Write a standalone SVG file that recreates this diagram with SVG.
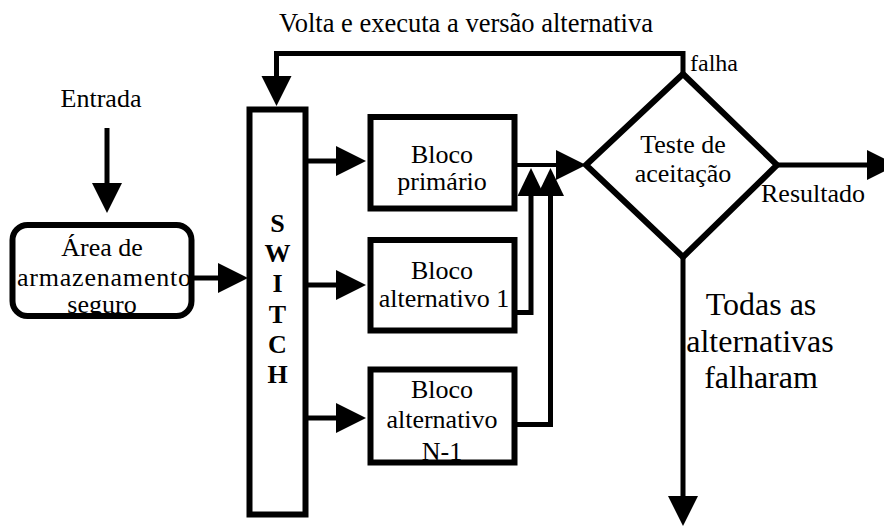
<svg xmlns="http://www.w3.org/2000/svg" width="884" height="530" viewBox="0 0 884 530">
  <style>
    text { font-family: 'Liberation Serif', 'Times New Roman', Tinos, 'DejaVu Serif', serif; font-size: 26px; fill: #000; text-anchor: middle; }
    .left { text-anchor: start; }
    .big { font-size: 32px; }
    .sw { font-weight: bold; font-size: 26px; }
    .box { fill: #fff; stroke: #000; stroke-width: 6; }
    .wire { fill: none; stroke: #000; stroke-width: 5; stroke-linejoin: miter; }
  </style>
  <defs>
    <marker id="ah" markerUnits="userSpaceOnUse" markerWidth="31" markerHeight="31" refX="0" refY="15" orient="auto" overflow="visible">
      <path d="M0,0 L30,15 L0,30 Z" fill="#000"/>
    </marker>
    <marker id="ahs" markerUnits="userSpaceOnUse" markerWidth="29" markerHeight="28" refX="0" refY="13.5" orient="auto" overflow="visible">
      <path d="M0,0 L28,13.5 L0,27 Z" fill="#000"/>
    </marker>
  </defs>

  <!-- free labels -->
  <text x="466" y="32" style="font-size:26.5px">Volta e executa a versão alternativa</text>
  <text class="left" x="690" y="71" style="font-size:24px">falha</text>
  <text x="101" y="107">Entrada</text>
  <text x="813" y="202">Resultado</text>
  <text class="big" x="761" y="315">Todas as</text>
  <text class="big" x="760" y="352">alternativas</text>
  <text class="big" x="761" y="388">falharam</text>

  <!-- connectors -->
  <g id="connectors">
    <path class="wire" d="M107,128 V183" marker-end="url(#ah)"/>
    <path class="wire" d="M192,278 H218" marker-end="url(#ah)"/>
    <path class="wire" d="M305,161 H336" marker-end="url(#ah)"/>
    <path class="wire" d="M305,285 H336" marker-end="url(#ah)"/>
    <path class="wire" d="M305,418 H336" marker-end="url(#ah)"/>
    <path class="wire" d="M515,165 H556" marker-end="url(#ah)" style="stroke-width:4"/>
    <path class="wire" d="M514,312.5 H531 V196" marker-end="url(#ahs)"/>
    <path class="wire" d="M514,424.5 H550.5 V196" marker-end="url(#ahs)"/>
    <path class="wire" d="M683,74 V53.5 H276.5 V76" marker-end="url(#ah)"/>
    <path class="wire" d="M777,165 H867" marker-end="url(#ah)"/>
    <path class="wire" d="M683,257 V496" marker-end="url(#ah)"/>
  </g>

  <!-- storage -->
  <g id="storage">
    <rect class="box" x="12.5" y="225" width="179" height="91" rx="15"/>
    <text x="102" y="256">Área de</text>
    <text x="104" y="286" textLength="174" lengthAdjust="spacing">armazenamento</text>
    <text x="102" y="313">seguro</text>
  </g>

  <!-- switch -->
  <g id="switch">
    <rect class="box" x="249.5" y="109.5" width="56" height="405"/>
    <text class="sw" x="277.5" y="232">S</text>
    <text class="sw" x="277.5" y="262">W</text>
    <text class="sw" x="277.5" y="292">I</text>
    <text class="sw" x="277.5" y="323">T</text>
    <text class="sw" x="277.5" y="353">C</text>
    <text class="sw" x="277.5" y="383">H</text>
  </g>

  <!-- blocks -->
  <g id="primary">
    <rect class="box" x="370.5" y="117" width="144" height="91.5"/>
    <text x="442" y="163">Bloco</text>
    <text x="442" y="190">primário</text>
  </g>
  <g id="alt1">
    <rect class="box" x="370.5" y="240" width="144" height="90.5"/>
    <text x="442" y="279">Bloco</text>
    <text x="444" y="307">alternativo 1</text>
  </g>
  <g id="altN">
    <rect class="box" x="370.5" y="369.5" width="144" height="93"/>
    <text x="442" y="398">Bloco</text>
    <text x="442" y="428">alternativo</text>
    <text x="442" y="460">N-1</text>
  </g>

  <!-- acceptance test -->
  <g id="test">
    <polygon class="box" points="586,165 683,74 777,165 683,257"/>
    <text x="683" y="153">Teste de</text>
    <text x="683" y="182">aceitação</text>
  </g>
</svg>
